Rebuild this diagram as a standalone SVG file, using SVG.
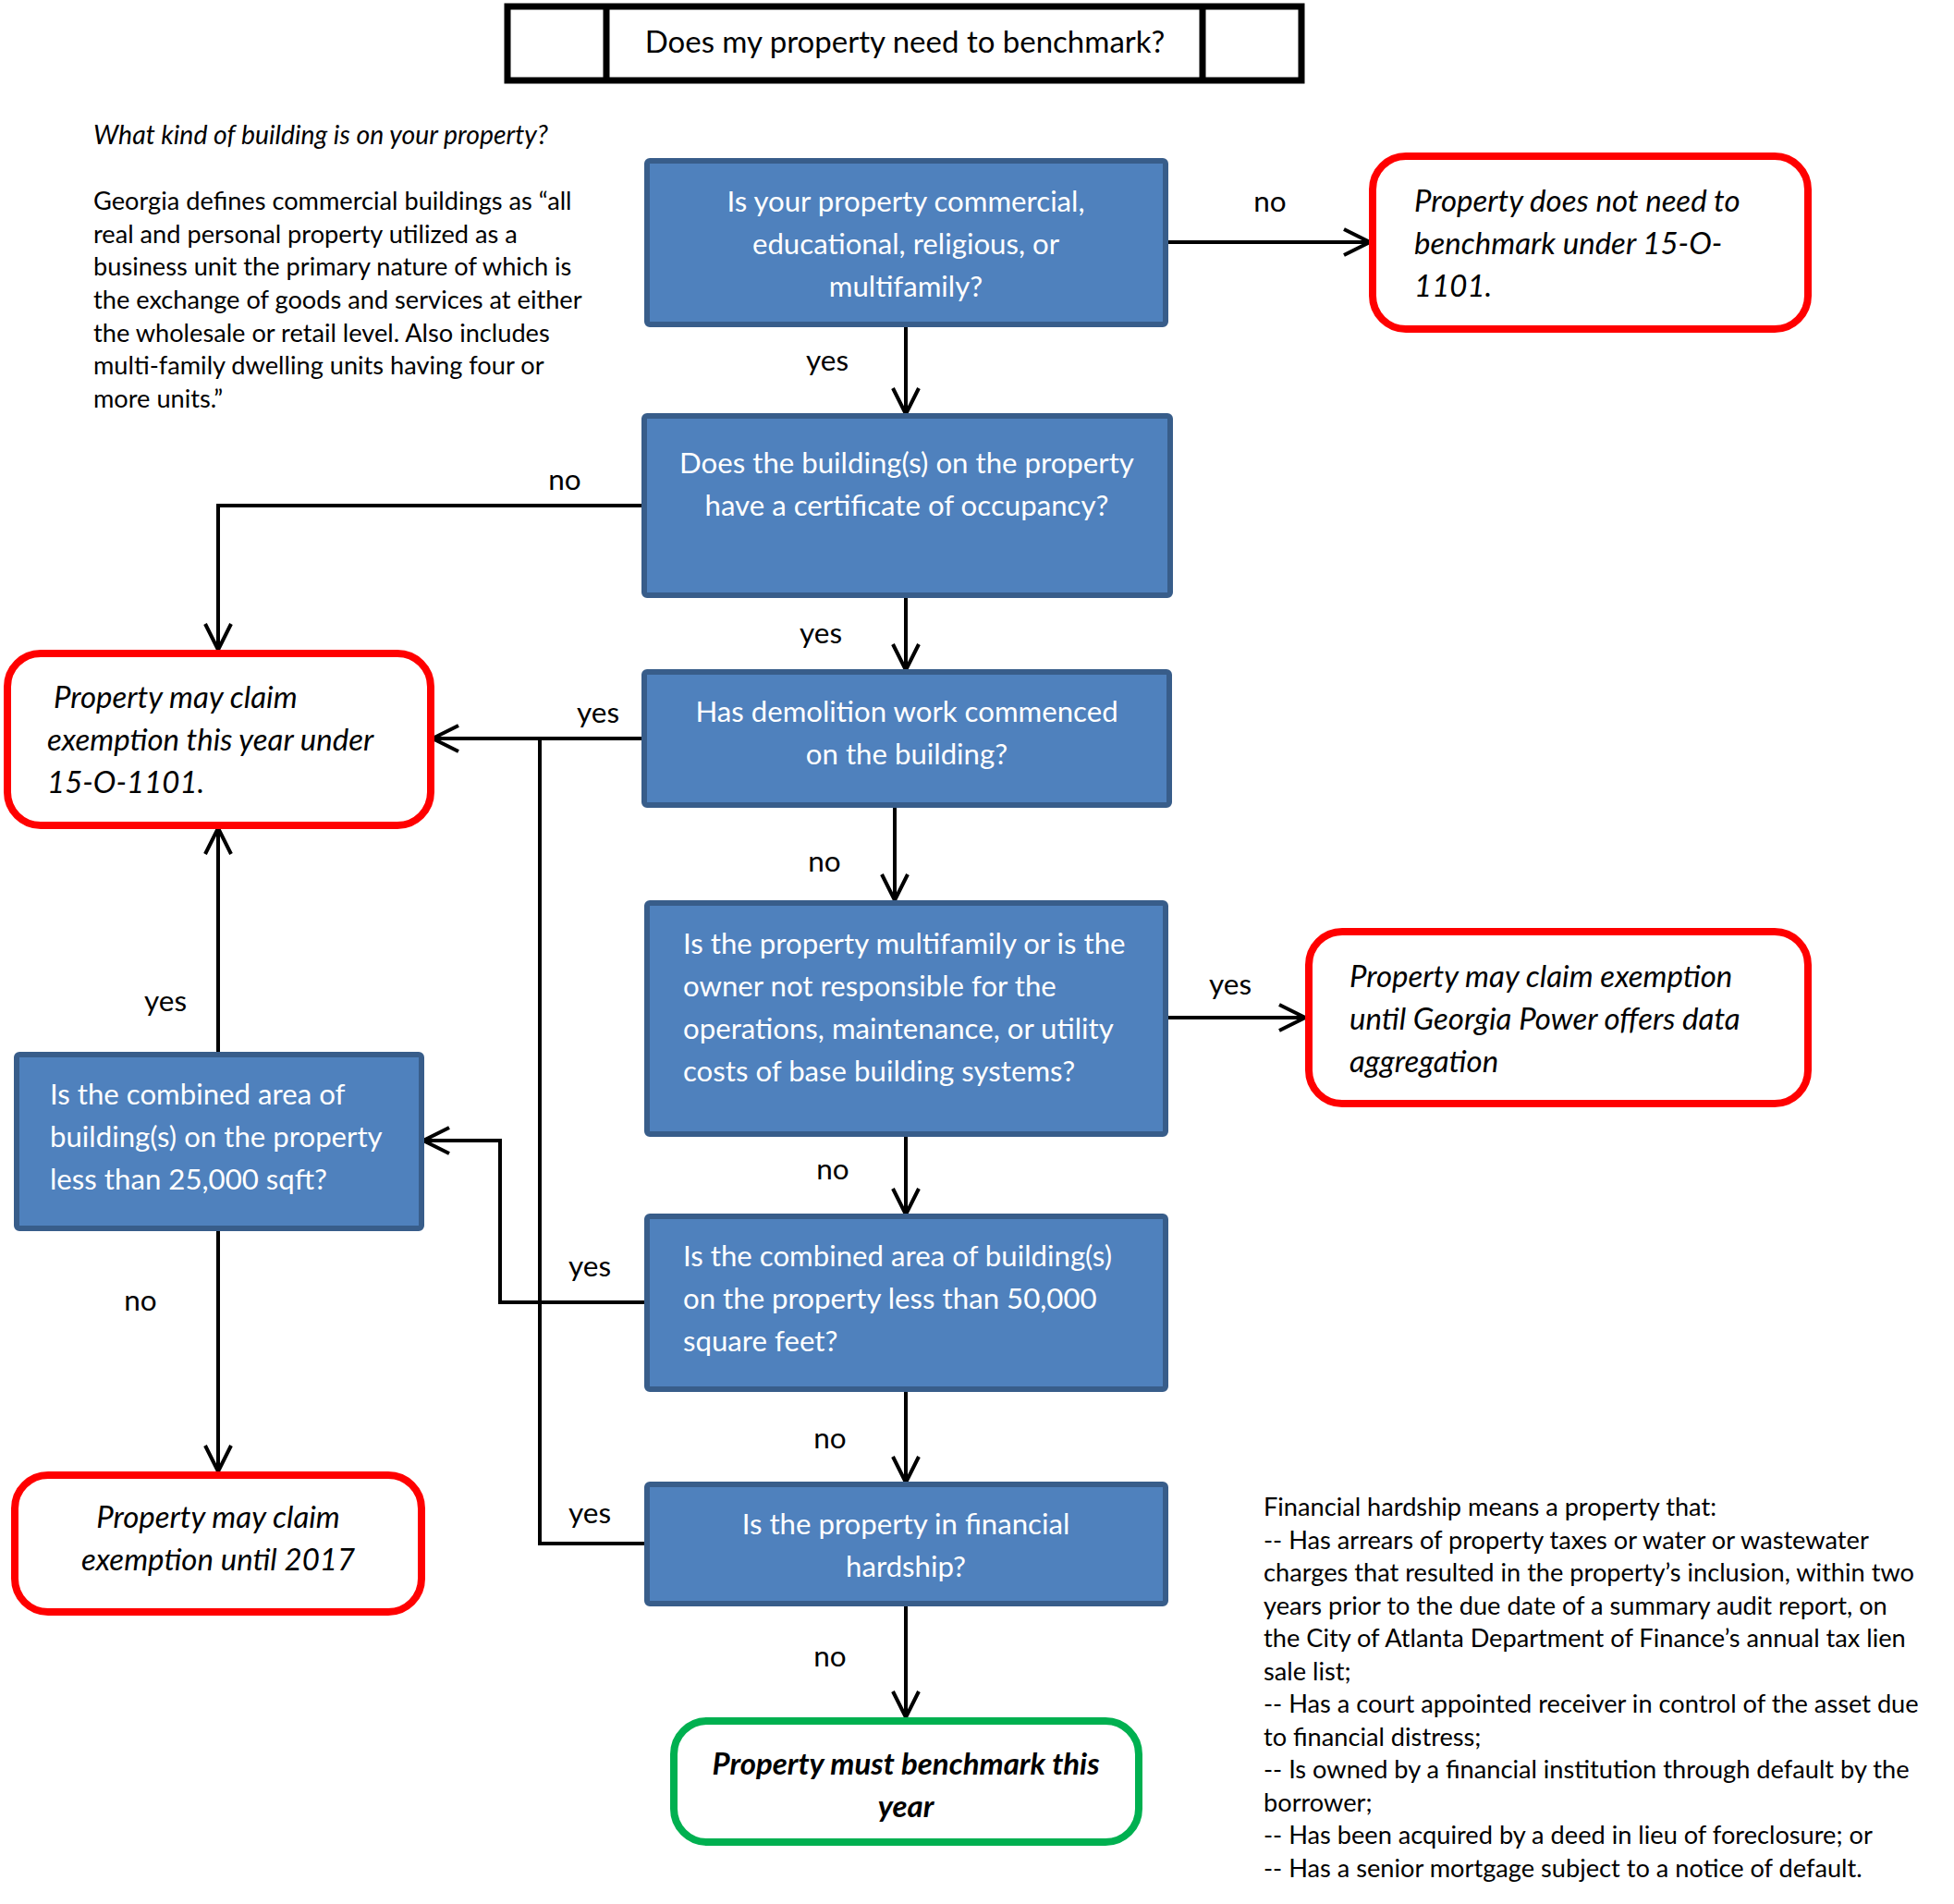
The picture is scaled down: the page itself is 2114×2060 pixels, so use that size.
<svg xmlns="http://www.w3.org/2000/svg" width="2114" height="2060" viewBox="0 0 2114 2060">
<style>
  text { font-family: Lato, "Liberation Sans", sans-serif; fill: #000; }
  .q { fill: #4F81BD; stroke: #385D8A; stroke-width: 6; }
  .qt { fill: #fff; font-size: 31.2px; }
  .r { fill: #fff; stroke: #FF0000; stroke-width: 8; }
  .g { fill: #fff; stroke: #00B050; stroke-width: 8; }
  .rt { font-size: 33px; font-style: italic; }
  .lbl { font-size: 31.5px; text-anchor: middle; }
  .note { font-size: 27.2px; }
  .c { text-anchor: middle; }
  .conn path { fill: none; stroke: #000; stroke-width: 4; }
</style>
<defs>
  <marker id="arr" markerUnits="userSpaceOnUse" viewBox="-32 -18 36 36" refX="0" refY="0" markerWidth="36" markerHeight="36" orient="auto" overflow="visible">
    <path d="M -28 -14 L 0 0 L -28 14" fill="none" stroke="#000" stroke-width="4"/>
  </marker>
</defs>
<rect width="2114" height="2060" fill="#fff"/>

<g id="title">
  <rect x="549" y="7" width="859" height="80" fill="#fff" stroke="#000" stroke-width="7"/>
  <line x1="656" y1="7" x2="656" y2="87" stroke="#000" stroke-width="7"/>
  <line x1="1301" y1="7" x2="1301" y2="87" stroke="#000" stroke-width="7"/>
  <text x="979" y="57" class="c" font-size="33">Does my property need to benchmark?</text>
</g>

<g id="note-building">
  <text x="101" y="156" font-size="28.4" font-style="italic">What kind of building is on your property?</text>
  <text class="note">
    <tspan x="101" y="227">Georgia defines commercial buildings as “all</tspan>
    <tspan x="101" y="263">real and personal property utilized as a</tspan>
    <tspan x="101" y="298">business unit the primary nature of which is</tspan>
    <tspan x="101" y="334">the exchange of goods and services at either</tspan>
    <tspan x="101" y="370">the wholesale or retail level. Also includes</tspan>
    <tspan x="101" y="405">multi-family dwelling units having four or</tspan>
    <tspan x="101" y="441">more units.”</tspan>
  </text>
</g>

<g id="note-hardship">
  <text class="note">
    <tspan x="1367" y="1640">Financial hardship means a property that:</tspan>
    <tspan x="1367" y="1675.5">-- Has arrears of property taxes or water or wastewater</tspan>
    <tspan x="1367" y="1711">charges that resulted in the property’s inclusion, within two</tspan>
    <tspan x="1367" y="1746.5">years prior to the due date of a summary audit report, on</tspan>
    <tspan x="1367" y="1782">the City of Atlanta Department of Finance’s annual tax lien</tspan>
    <tspan x="1367" y="1817.5">sale list;</tspan>
    <tspan x="1367" y="1853">-- Has a court appointed receiver in control of the asset due</tspan>
    <tspan x="1367" y="1888.5">to financial distress;</tspan>
    <tspan x="1367" y="1924">-- Is owned by a financial institution through default by the</tspan>
    <tspan x="1367" y="1959.5">borrower;</tspan>
    <tspan x="1367" y="1995">-- Has been acquired by a deed in lieu of foreclosure; or</tspan>
    <tspan x="1367" y="2030.5">-- Has a senior mortgage subject to a notice of default.</tspan>
  </text>
</g>

<g id="connectors" class="conn">
  <path d="M 980 351 L 980 448" marker-end="url(#arr)"/>
  <path d="M 1261 262 L 1482 262" marker-end="url(#arr)"/>
  <path d="M 696 547 L 236 547 L 236 703" marker-end="url(#arr)"/>
  <path d="M 980 644 L 980 725" marker-end="url(#arr)"/>
  <path d="M 696 799 L 468 799" marker-end="url(#arr)"/>
  <path d="M 700 1670 L 584 1670 L 584 799"/>
  <path d="M 968 871 L 968 974" marker-end="url(#arr)"/>
  <path d="M 1261 1101 L 1412 1101" marker-end="url(#arr)"/>
  <path d="M 980 1227 L 980 1314" marker-end="url(#arr)"/>
  <path d="M 700 1409 L 541 1409 L 541 1234 L 458 1234" marker-end="url(#arr)"/>
  <path d="M 236 1141 L 236 896" marker-end="url(#arr)"/>
  <path d="M 236 1329 L 236 1592" marker-end="url(#arr)"/>
  <path d="M 980 1503 L 980 1604" marker-end="url(#arr)"/>
  <path d="M 980 1735 L 980 1858" marker-end="url(#arr)"/>
  <text x="895" y="401" class="lbl">yes</text>
  <text x="1374" y="229" class="lbl">no</text>
  <text x="611" y="530" class="lbl">no</text>
  <text x="888" y="696" class="lbl">yes</text>
  <text x="647" y="782" class="lbl">yes</text>
  <text x="638" y="1648" class="lbl">yes</text>
  <text x="892" y="943" class="lbl">no</text>
  <text x="1331" y="1076" class="lbl">yes</text>
  <text x="901" y="1276" class="lbl">no</text>
  <text x="638" y="1381" class="lbl">yes</text>
  <text x="179" y="1094" class="lbl">yes</text>
  <text x="152" y="1418" class="lbl">no</text>
  <text x="898" y="1567" class="lbl">no</text>
  <text x="898" y="1803" class="lbl">no</text>
</g>

<g id="q1">
  <rect x="700" y="174" width="561" height="177" rx="3" class="q"/>
  <text class="qt c"><tspan x="980" y="229">Is your property commercial,</tspan><tspan x="980" y="275">educational, religious, or</tspan><tspan x="980" y="321">multifamily?</tspan></text>
</g>
<g id="r1">
  <rect x="1485" y="169" width="471" height="187" rx="36" class="r"/>
  <text class="rt"><tspan x="1530" y="229">Property does not need to</tspan><tspan x="1530" y="275">benchmark under 15-O-</tspan><tspan x="1530" y="321">1101.</tspan></text>
</g>
<g id="q2">
  <rect x="697" y="450" width="569" height="194" rx="3" class="q"/>
  <text class="qt c"><tspan x="981" y="512">Does the building(s) on the property</tspan><tspan x="981" y="558">have a certificate of occupancy?</tspan></text>
</g>
<g id="q3">
  <rect x="697" y="727" width="568" height="144" rx="3" class="q"/>
  <text class="qt c"><tspan x="981" y="781">Has demolition work commenced</tspan><tspan x="981" y="827">on the building?</tspan></text>
</g>
<g id="r2">
  <rect x="8" y="707" width="458" height="186" rx="36" class="r"/>
  <text class="rt"><tspan x="58" y="766">Property may claim</tspan><tspan x="51" y="812">exemption this year under</tspan><tspan x="51" y="858">15-O-1101.</tspan></text>
</g>
<g id="q4">
  <rect x="700" y="977" width="561" height="250" rx="3" class="q"/>
  <text class="qt"><tspan x="739" y="1032">Is the property multifamily or is the</tspan><tspan x="739" y="1078">owner not responsible for the</tspan><tspan x="739" y="1124">operations, maintenance, or utility</tspan><tspan x="739" y="1170">costs of base building systems?</tspan></text>
</g>
<g id="r3">
  <rect x="1416" y="1008" width="540" height="186" rx="36" class="r"/>
  <text class="rt"><tspan x="1460" y="1068">Property may claim exemption</tspan><tspan x="1460" y="1114">until Georgia Power offers data</tspan><tspan x="1460" y="1160">aggregation</tspan></text>
</g>
<g id="q5">
  <rect x="18" y="1141" width="438" height="188" rx="3" class="q"/>
  <text class="qt"><tspan x="54" y="1195">Is the combined area of</tspan><tspan x="54" y="1241">building(s) on the property</tspan><tspan x="54" y="1287">less than 25,000 sqft?</tspan></text>
</g>
<g id="q6">
  <rect x="700" y="1316" width="561" height="187" rx="3" class="q"/>
  <text class="qt"><tspan x="739" y="1370">Is the combined area of building(s)</tspan><tspan x="739" y="1416">on the property less than 50,000</tspan><tspan x="739" y="1462">square feet?</tspan></text>
</g>
<g id="r4">
  <rect x="16" y="1596" width="440" height="148" rx="36" class="r"/>
  <text class="rt c"><tspan x="236" y="1653">Property may claim</tspan><tspan x="236" y="1699">exemption until 2017</tspan></text>
</g>
<g id="q7">
  <rect x="700" y="1606" width="561" height="129" rx="3" class="q"/>
  <text class="qt c"><tspan x="980" y="1660">Is the property in financial</tspan><tspan x="980" y="1706">hardship?</tspan></text>
</g>
<g id="g1">
  <rect x="729" y="1862" width="503" height="131" rx="36" class="g"/>
  <text class="rt c" font-weight="bold"><tspan x="980" y="1920">Property must benchmark this</tspan><tspan x="980" y="1966">year</tspan></text>
</g>
</svg>
